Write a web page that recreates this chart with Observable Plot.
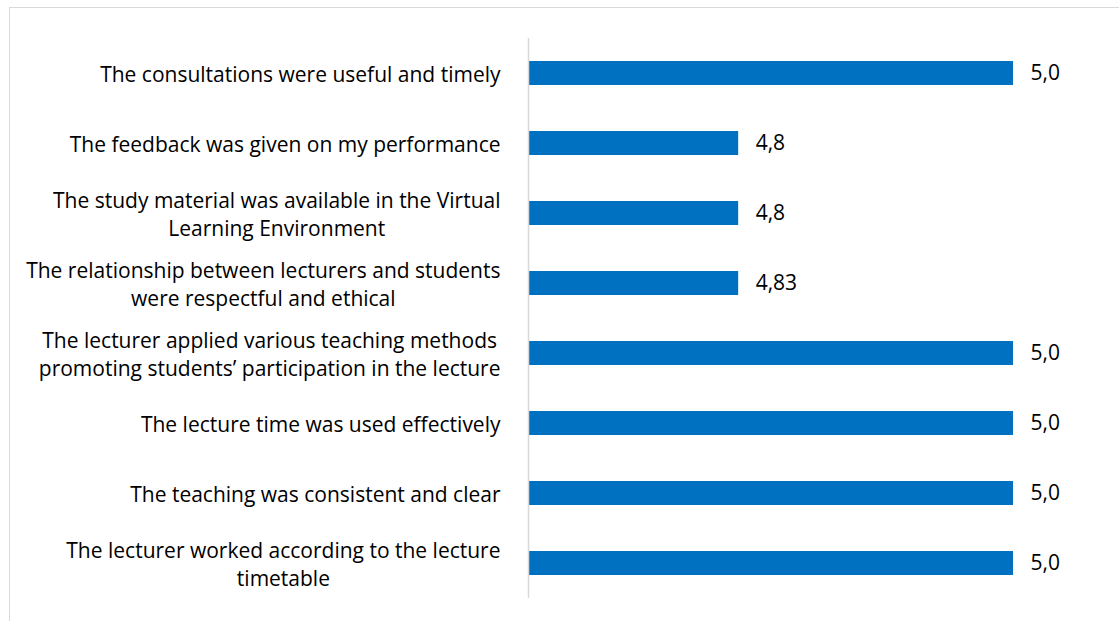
<!DOCTYPE html>
<html>
<head>
<meta charset="utf-8">
<script src="https://cdn.jsdelivr.net/npm/d3@7"></script>
<script src="https://cdn.jsdelivr.net/npm/@observablehq/plot@0.6"></script>
<style>
  html, body { margin: 0; padding: 0; background: #fff; overflow: hidden; }
  #wrap { position: relative; width: 1119px; height: 621px; }
  #frame { position: absolute; left: 9px; top: 7px; width: 1300px; height: 800px; border: 1.5px solid #d9d9d9; box-sizing: border-box; }
  #chart { position: absolute; left: 0; top: 0; }
</style>
</head>
<body>
<div id="wrap"><div id="frame"></div><div id="chart"></div></div>
<script>
const categories = [
  "The consultations were useful and timely",
  "The feedback was given on my performance",
  "The study material was available in the Virtual\nLearning Environment",
  "The relationship between lecturers and students\nwere respectful and ethical",
  "The lecturer applied various teaching methods\npromoting students\u2019 participation in the lecture",
  "The lecture time was used effectively",
  "The teaching was consistent and clear",
  "The lecturer worked according to the lecture\ntimetable"
];
const values = [5.0, 4.83, 4.83, 4.83, 5.0, 5.0, 5.0, 5.0];
const valueLabels = ["5,0", "4,8", "4,8", "4,83", "5,0", "5,0", "5,0", "5,0"];
const axisMin = 4.7;
const axisMax = 5.0;

const data = categories.map((c, i) => ({category: c, value: values[i], label: valueLabels[i]}));
const FONT = "Open Sans, sans-serif";
const FS = 21;

const chart = Plot.plot({
  width: 1119,
  height: 621,
  marginLeft: 528,
  marginRight: 106,
  marginTop: 38,
  marginBottom: 23,
  style: {fontFamily: FONT, fontSize: FS + "px", color: "#000", background: "transparent"},
  x: {domain: [axisMin, axisMax], axis: null},
  y: {domain: categories, paddingInner: 0.657, paddingOuter: 0.3285, label: null},
  marks: [
    Plot.barX(data, {x1: axisMin, x2: "value", y: "category", fill: "#0070C0"}),
    Plot.ruleX([axisMin], {stroke: "#d9d9d9", strokeWidth: 1.5}),
    Plot.text(data, {x: "value", y: "category", text: "label", textAnchor: "start", dx: 17, fill: "#000", fontSize: FS}),
    Plot.axisY({tickSize: 0, tickPadding: 28, fontSize: FS, lineHeight: 28 / FS, textOverflow: null, lineWidth: Infinity, fill: "#000"})
  ]
});
document.getElementById("chart").appendChild(chart);

// Center the wrapped lines of each category label relative to each other (right edge of block fixed)
chart.querySelectorAll('g[aria-label="y-axis tick label"] text').forEach(t => {
  const spans = t.querySelectorAll("tspan");
  if (spans.length > 1) {
    const w = Math.max(...Array.from(spans, s => s.getComputedTextLength()));
    t.setAttribute("text-anchor", "middle");
    spans.forEach(s => s.setAttribute("x", -w / 2));
  }
});
</script>
</body>
</html>
